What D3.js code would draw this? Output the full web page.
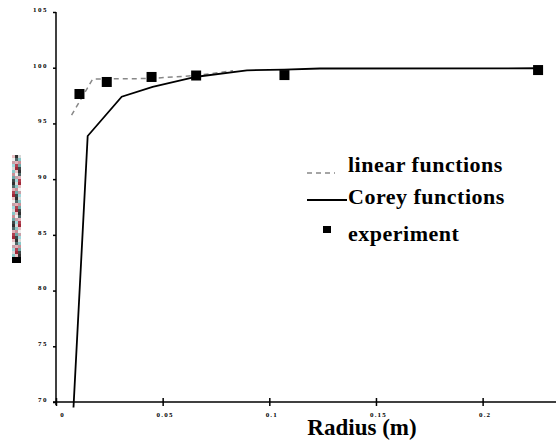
<!DOCTYPE html>
<html><head><meta charset="utf-8">
<script src="https://cdn.jsdelivr.net/npm/d3@7"></script>
<style>body{margin:0;background:#fff}svg{display:block}</style>
</head><body><svg id="c" width="556" height="446" font-family="Liberation Serif" font-weight="bold"></svg>
<script>
const coreyR = [0.0082, 0.01485, 0.0308, 0.0453, 0.0659, 0.0895, 0.107, 0.1237, 0.2259];
const coreyV = [69.5, 93.87, 97.40, 98.29, 99.19, 99.77, 99.82, 99.93, 99.95];
const linearR = [0.0073, 0.0172, 0.044, 0.0656, 0.083];
const linearV = [95.74, 98.99, 99.03, 99.3, 99.73];
const expR = [0.011, 0.0238, 0.0448, 0.0657, 0.1071, 0.226];
const expV = [97.64, 98.72, 99.17, 99.30, 99.34, 99.79];
const xTicks = [0, 0.05, 0.1, 0.15, 0.2];
const xTickLabels = ["0", "0.05", "0.1", "0.15", "0.2"];
const yTicks = [70, 75, 80, 85, 90, 95, 100, 105];
const legendLabels = ["linear functions", "Corey functions", "experiment"];
const xTitle = "Radius (m)";
const blobColors = ["#e8c0c4","#9fd8dc","#c89098","#303030","#b04050","#f0f0f0","#d8d8d8","#70a8a8","#506868","#a02838","#c8a0a8","#88c8c8","#404848","#e0b0b8"];

const FONT = "Liberation Serif";
const svg = d3.select("#c");
const x = d3.scaleLinear().domain([0, 0.2344]).range([56, 556]);
const y = d3.scaleLinear().domain([70, 105]).range([402, 12]);

// axes
const xAxis = svg.append("g").attr("transform", "translate(0,402)")
  .call(d3.axisBottom(x).tickValues(xTicks).tickFormat((d,i)=>xTickLabels[i]).tickSize(4).tickSizeOuter(0));
xAxis.attr("font-family", FONT).attr("font-weight","bold");
xAxis.select(".domain").attr("stroke","#000").attr("stroke-width",1.5).attr("d","M53,0H556");
xAxis.selectAll(".tick line").attr("stroke","#000").attr("stroke-width",1.5).attr("y1",-4).attr("y2",4);
xAxis.selectAll(".tick text").attr("font-size",7).attr("fill","#000").attr("y",10).attr("dx",(d,i)=>i===0?6:2)
  .attr("letter-spacing",1.2).attr("font-family",FONT).attr("font-weight","bold");

const yAxis = svg.append("g").attr("transform", "translate(56,0)")
  .call(d3.axisLeft(y).tickValues(yTicks).tickSize(3).tickSizeOuter(0));
yAxis.attr("font-family", FONT).attr("font-weight","bold");
yAxis.select(".domain").attr("stroke","#000").attr("stroke-width",1.5).attr("d","M0,12V405");
yAxis.selectAll(".tick line").attr("stroke","#000").attr("stroke-width",1.5);
yAxis.selectAll(".tick text").attr("font-size",7).attr("fill","#000").attr("x",-8).attr("dy","-0.1em")
  .attr("letter-spacing",1.5).attr("font-family",FONT).attr("font-weight","bold");

// garbled y label blob
const blob = svg.append("g");
for (let r = 0; r < 36; r++) {
  for (let c = 0; c < 3; c++) {
    const col = r >= 34 ? "#000" : blobColors[(r * 5 + c * 3) % blobColors.length];
    blob.append("rect").attr("x", 12 + c*3).attr("y", 155 + r*3).attr("width", 3).attr("height", 3).attr("fill", col);
  }
}

// lines
const line = d3.line().x(d=>x(d[0])).y(d=>y(d[1]));
svg.append("path").datum(linearR.map((r,i)=>[r, linearV[i]]))
  .attr("d", line).attr("fill","none").attr("stroke","#888").attr("stroke-width",1.5).attr("stroke-dasharray","5,4");
svg.append("path").datum(coreyR.map((r,i)=>[r, coreyV[i]]))
  .attr("d", line).attr("fill","none").attr("stroke","#000").attr("stroke-width",1.8);

// experiment squares
svg.selectAll("rect.exp").data(expR.map((r,i)=>[r, expV[i]])).enter().append("rect")
  .attr("class","exp").attr("x", d=>x(d[0])-5).attr("y", d=>y(d[1])-5).attr("width",10).attr("height",10).attr("fill","#000");

// legend
const lg = svg.append("g");
lg.append("line").attr("x1",307).attr("x2",335).attr("y1",173).attr("y2",173).attr("stroke","#888").attr("stroke-width",1.5).attr("stroke-dasharray","5,4");
lg.append("line").attr("x1",307).attr("x2",347).attr("y1",200).attr("y2",200).attr("stroke","#000").attr("stroke-width",1.8);
lg.append("rect").attr("x",323).attr("y",226).attr("width",8).attr("height",7).attr("fill","#000");
const ly = [172, 204, 241];
legendLabels.forEach((t,i)=>{
  lg.append("text").attr("x",348).attr("y",ly[i]).attr("font-size",22).attr("fill","#000")
    .attr("letter-spacing",0.5).attr("font-family",FONT).attr("font-weight","bold").text(t);
});

svg.append("text").attr("x",362).attr("y",435).attr("text-anchor","middle").attr("font-size",23).attr("fill","#000")
  .attr("font-family",FONT).attr("font-weight","bold").text(xTitle);
</script></body></html>
